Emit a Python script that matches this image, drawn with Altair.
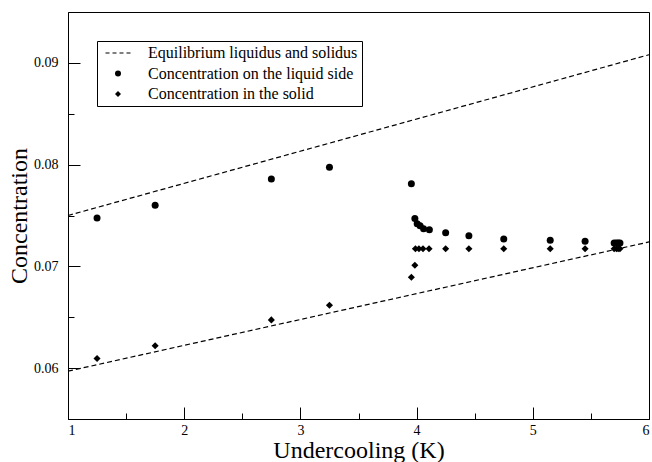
import altair as alt
import pandas as pd

# ---- axis ticks ----
x_ticks = [1, 2, 3, 4, 5, 6]
x_minor = [1.5, 2.5, 3.5, 4.5, 5.5]
y_ticks = [0.06, 0.07, 0.08, 0.09]
y_minor = [0.065, 0.075, 0.085]

# ---- series names ----
series_names = [
    "Equilibrium liquidus and solidus",
    "Concentration on the liquid side",
    "Concentration in the solid",
]

# ---- equilibrium lines ----
eq_x = [1.0, 6.0]
liquidus_y = [0.0750, 0.0908]
solidus_y = [0.0597, 0.0724]

# ---- concentration on the liquid side ----
liq_x = [1.25, 1.75, 2.75, 3.25, 3.955, 3.985, 4.005, 4.03, 4.06, 4.11,
         4.25, 4.45, 4.75, 5.15, 5.45, 5.70, 5.72, 5.735, 5.75]
liq_y = [0.07475, 0.0760, 0.07858, 0.07975, 0.07812, 0.0747, 0.0742, 0.0740, 0.0737, 0.0736,
         0.0733, 0.0730, 0.0727, 0.07256, 0.07246, 0.0723, 0.0723, 0.0723, 0.0723]

# ---- concentration in the solid ----
sol_x = [1.25, 1.75, 2.75, 3.25, 3.955, 3.985, 3.99, 4.02, 4.055, 4.107,
         4.25, 4.45, 4.75, 5.15, 5.45, 5.70, 5.72, 5.735, 5.75]
sol_y = [0.06094, 0.0622, 0.06474, 0.06618, 0.06893, 0.07011, 0.07174, 0.07174, 0.07174, 0.07174,
         0.07174, 0.07174, 0.07174, 0.07174, 0.07174, 0.07174, 0.07174, 0.07174, 0.07174]

W, H = 581, 407
FONT = "Liberation Serif"

lines_df = pd.DataFrame({
    "x": eq_x + eq_x,
    "y": liquidus_y + solidus_y,
    "line": ["liquidus"] * 2 + ["solidus"] * 2,
})
liq_df = pd.DataFrame({"x": liq_x, "y": liq_y, "series": series_names[1]})
sol_df = pd.DataFrame({"x": sol_x, "y": sol_y, "series": series_names[2]})

xscale = alt.Scale(domain=[1, 6], nice=False, zero=False)
yscale = alt.Scale(domain=[0.055, 0.095], nice=False, zero=False)

# dashed-line legend symbol drawn as four thin filled dashes
segs = [(-4.17, -2.83), (-1.83, -0.5), (0.5, 1.83), (2.83, 4.17)]
dash_path = "".join(
    f"M{a},-0.18L{b},-0.18L{b},0.18L{a},0.18Z" for a, b in segs
)
shape_scale = alt.Scale(domain=series_names, range=[dash_path, "circle", "diamond"])

legend = alt.Legend(
    title=None, orient="none", legendX=29, legendY=29,
    strokeColor="black", fillColor="white", padding=4,
    labelFont=FONT, labelFontSize=16, labelColor="black", labelLimit=400,
    symbolSize=36, symbolOffset=9, labelOffset=22, rowPadding=4.5,
    symbolFillColor="black", symbolStrokeColor="black", symbolStrokeWidth=0,
)

main_x = alt.Axis(values=x_ticks, format="d", ticks=False, title="Undercooling (K)",
                  labelPadding=4, titlePadding=1, labelFont=FONT, titleFont=FONT,
                  labelFontSize=14, titleFontSize=24)
main_y = alt.Axis(values=y_ticks, format=".2f", ticks=False, title="Concentration",
                  labelPadding=10, titlePadding=2, labelFont=FONT, titleFont=FONT,
                  labelFontSize=14, titleFontSize=24)
major_x = alt.Axis(orient="top", offset=-H, values=x_ticks, labels=False, domain=False,
                   tickSize=12, title=None)
major_y = alt.Axis(orient="right", offset=-W, values=y_ticks, labels=False, domain=False,
                   tickSize=12, title=None)
minor_x = alt.Axis(orient="top", offset=-H, values=x_minor, labels=False, domain=False,
                   tickSize=6, title=None)
minor_y = alt.Axis(orient="right", offset=-W, values=y_minor, labels=False, domain=False,
                   tickSize=6, title=None)

lines = alt.Chart(lines_df).mark_line(
    strokeDash=[5, 3], strokeWidth=1.2, color="black"
).encode(
    x=alt.X("x:Q", scale=xscale, axis=main_x),
    y=alt.Y("y:Q", scale=yscale, axis=main_y),
    detail="line:N",
)

circles = alt.Chart(liq_df).mark_point(
    filled=True, size=49, color="black", opacity=1
).encode(
    x=alt.X("x:Q", scale=xscale, axis=major_x),
    y=alt.Y("y:Q", scale=yscale, axis=major_y),
    shape=alt.Shape("series:N", scale=shape_scale, legend=legend),
)

diamonds = alt.Chart(sol_df).mark_point(
    filled=True, size=50, color="black", opacity=1
).encode(
    x=alt.X("x:Q", scale=xscale, axis=minor_x),
    y=alt.Y("y:Q", scale=yscale, axis=minor_y),
    shape=alt.Shape("series:N", scale=shape_scale, legend=legend),
)

chart = alt.layer(lines, circles, diamonds).resolve_axis(
    x="independent", y="independent"
).properties(
    width=W, height=H,
    autosize=alt.AutoSizeParams(type="none"),
    padding={"left": 68, "top": 12, "right": 3, "bottom": 43},
    background="white",
).configure_axis(
    labelFont=FONT, titleFont=FONT, labelFontSize=14, titleFontSize=24,
    titleFontWeight="normal", labelColor="black", titleColor="black",
    domainColor="black", tickColor="black", grid=False, domainWidth=1, tickWidth=1,
).configure_legend(
    labelFont=FONT
).configure_view(stroke="black", strokeWidth=1)

chart.save("out.html", embed_options={"renderer": "svg", "actions": False})
